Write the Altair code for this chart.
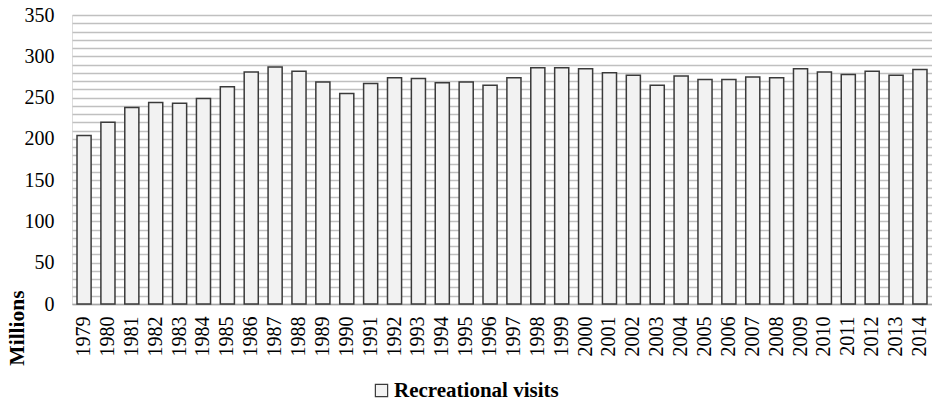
import altair as alt
import pandas as pd

# Annual recreational visits, in millions
years = [str(y) for y in range(1979, 2015)]
visits = [204, 220, 238, 244, 243, 249, 263, 281, 287, 282,
          269, 255, 267, 274, 273, 268, 269, 265, 274, 286,
          286, 285, 280, 277, 265, 276, 272, 272, 275, 274,
          285, 281, 278, 282, 277, 284]
series = ["Recreational visits"] * len(years)

df = pd.DataFrame({"year": years, "visits": visits, "series": series})

serif = "'Liberation Serif', 'Times New Roman', Times, serif"

chart = (
    alt.Chart(df)
    .mark_bar(fill="#f2f2f2", stroke="#3a3a3a", strokeWidth=1.5)
    .encode(
        x=alt.X(
            "year:N",
            sort=years,
            scale=alt.Scale(paddingInner=0.41, paddingOuter=0.21),
            axis=alt.Axis(
                title=None,
                labelAngle=-90,
                labelFont=serif,
                labelFontSize=20,
                labelColor="#000000",
                labelPadding=12,
                ticks=False,
                domainColor="#a6a6a6",
                domainWidth=1.5,
                grid=False,
            ),
        ),
        y=alt.Y(
            "visits:Q",
            scale=alt.Scale(domain=[0, 350], nice=False),
            axis=alt.Axis(
                title="Millions",
                titleFont=serif,
                titleFontSize=21.5,
                titleFontWeight="bold",
                titleColor="#000000",
                titleAngle=-90,
                titleX=-55,
                titleY=312.5,
                titleAlign="center",
                titleBaseline="middle",
                values=list(range(0, 351, 10)),
                labelExpr="datum.value % 50 == 0 ? datum.label : ''",
                labelFont=serif,
                labelFontSize=20,
                labelColor="#000000",
                labelPadding=18,
                ticks=False,
                domain=False,
                grid=True,
                gridColor="#c0c0c0",
                gridWidth=1.5,
            ),
        ),
        color=alt.Color(
            "series:N",
            scale=alt.Scale(range=["#f2f2f2"]),
            legend=alt.Legend(
                title=None,
                orient="none",
                legendX=299,
                legendY=365,
                symbolType="square",
                symbolSize=150,
                symbolStrokeColor="#3a3a3a",
                symbolStrokeWidth=1.2,
                symbolFillColor="#f2f2f2",
                labelFont=serif,
                labelFontSize=21,
                labelFontWeight="bold",
                labelColor="#000000",
                labelOffset=2,
                labelLimit=400,
            ),
        ),
    )
    .properties(
        width=860,
        height=289,
        autosize=alt.AutoSizeParams(type="none"),
        padding={"left": 72, "top": 15, "right": 0, "bottom": 98},
    )
    .configure_view(stroke=None)
    .configure(background="#ffffff")
)

chart.save("out.html", embed_options={"renderer": "svg", "actions": False})
